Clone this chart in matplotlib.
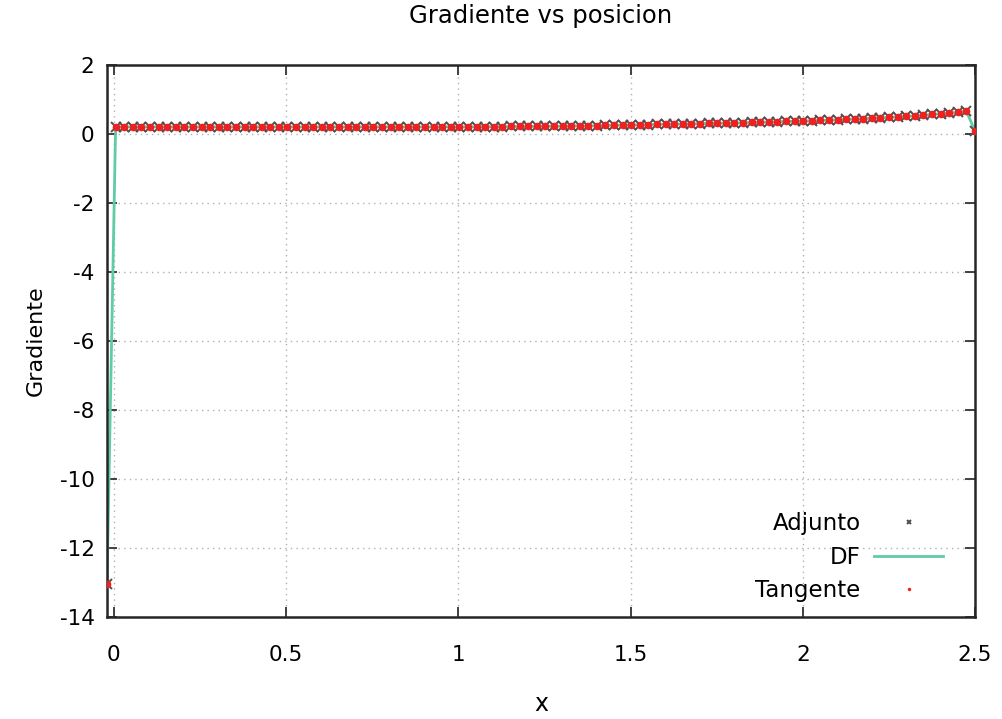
import numpy as np
import matplotlib
matplotlib.use("Agg")
import matplotlib.pyplot as plt

# posiciones de la malla (102 nodos entre -0.02 y 2.5)
posicion = np.linspace(-0.02, 2.5, 102)

# gradiente
gradiente = [
    -13.05,
    0.20, 0.20, 0.20, 0.20, 0.20, 0.20, 0.20, 0.20, 0.20, 0.20,
    0.20, 0.20, 0.20, 0.20, 0.20, 0.20, 0.20, 0.20, 0.20, 0.20,
    0.20, 0.20, 0.20, 0.20, 0.20, 0.20, 0.20, 0.20, 0.20, 0.20,
    0.20, 0.20, 0.20, 0.20, 0.20, 0.20, 0.20, 0.20, 0.20, 0.20,
    0.20, 0.20, 0.20, 0.205, 0.205, 0.205, 0.21, 0.21, 0.21, 0.215,
    0.215, 0.22, 0.22, 0.225, 0.23, 0.23, 0.235, 0.24, 0.245, 0.25,
    0.255, 0.26, 0.265, 0.27, 0.275, 0.28, 0.285, 0.29, 0.295, 0.30,
    0.305, 0.31, 0.315, 0.32, 0.33, 0.335, 0.34, 0.35, 0.355, 0.36,
    0.37, 0.375, 0.385, 0.395, 0.405, 0.415, 0.425, 0.435, 0.45, 0.46,
    0.475, 0.49, 0.505, 0.52, 0.54, 0.56, 0.58, 0.60, 0.625, 0.65,
    0.08,
]
grad_adjunto = gradiente
grad_df = gradiente
grad_tangente = gradiente

x_ticks = [0, 0.5, 1, 1.5, 2, 2.5]
x_ticklabels = ["0", "0.5", "1", "1.5", "2", "2.5"]
y_ticks = list(range(-14, 3, 2))

plt.rcParams["font.family"] = ["DejaVu Sans"]
plt.rcParams["axes.unicode_minus"] = False

fig = plt.figure(figsize=(10.03, 7.19), dpi=100)
ax = fig.add_axes([0.1067, 0.142, 0.8654, 0.768])

ax.plot(posicion, grad_adjunto, linestyle="none", marker="x", markersize=6.5,
        markeredgewidth=1.4, color="#505050", label="Adjunto", zorder=3)
ax.plot(posicion, grad_df, color="#5fcca4", linewidth=2, label="DF", zorder=2)
ax.plot(posicion, grad_tangente, linestyle="none", marker="o", markersize=5.5,
        markeredgewidth=0, color="#ee2020", label="Tangente", zorder=4)

ax.set_xlim(-0.02, 2.5)
ax.set_ylim(-14, 2)
ax.set_xticks(x_ticks)
ax.set_xticklabels(x_ticklabels)
ax.set_yticks(y_ticks)

ax.grid(True, color="#b0b0b0", linestyle=(0, (1, 3)), linewidth=1)
ax.tick_params(direction="in", length=7, width=1.3, top=True, right=True,
               colors="#333333", labelcolor="black", labelsize=15.5, pad=9)
ax.tick_params(axis="x", pad=20)
for s in ax.spines.values():
    s.set_linewidth(1.8)
    s.set_color("#262626")

ax.set_title("Gradiente vs posicion", fontsize=17.5, pad=30)
ax.set_xlabel("x", fontsize=17, labelpad=20)
ax.set_ylabel("Gradiente", fontsize=16, labelpad=10)

leg = ax.legend(loc="lower right", bbox_to_anchor=(0.971, 0.0145),
                markerfirst=False, frameon=False,
                fontsize=16.5, handlelength=3.0, labelspacing=0.45,
                markerscale=0.45, borderaxespad=0, borderpad=0.3,
                handletextpad=0.6)
for col in leg._legend_handle_box.get_children():
    col.align = "right"

fig.savefig("out.png", dpi=100)
